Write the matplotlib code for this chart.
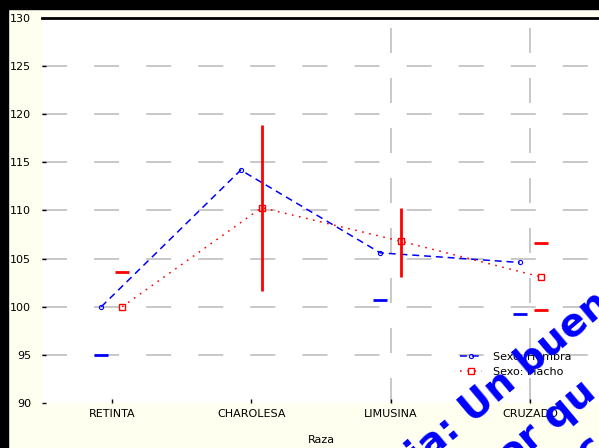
import matplotlib
matplotlib.use("Agg")
import matplotlib.pyplot as plt
import numpy as np
from matplotlib.patches import Rectangle

plt.rcParams['lines.scale_dashes'] = False

categories = ["RETINTA", "CHAROLESA", "LIMUSINA", "CRUZADO"]
yticks = [90, 95, 100, 105, 110, 115, 120, 125, 130]

hembra_mean = [100.0, 114.2, 105.6, 104.6]
hembra_low = [95.0, np.nan, 100.7, 99.2]

macho_mean = [100.0, 110.3, 106.8, 103.1]
macho_low = [np.nan, 101.6, 103.1, 99.7]
macho_high = [103.6, 118.9, 110.3, 106.6]
macho_bar = [False, True, True, False]

fig = plt.figure(figsize=(5.99, 4.48), dpi=100)
fig.patch.set_facecolor('#FFFFF0')

ax = fig.add_axes([42/599, 1-403/448, 558/599, 385/448])
ax.set_facecolor('white')
ax.set_xlim(-0.5, 3.5)
ax.set_ylim(90, 130)

x = np.arange(len(categories))
off = 0.075
xb = x - off
xr = x + off

# grid
for yv in yticks[1:-1]:
    ax.axhline(yv, color='#C8C8C8', lw=1.4, dashes=(18, 19.5), dash_capstyle='butt', zorder=1)
for xv in x[2:]:
    ax.axvline(xv, color='#C8C8C8', lw=1.4, dashes=(18, 18), zorder=1)

# series
ax.plot(xb, hembra_mean, color='#0000FF', lw=1.1, dashes=(5, 3.5), marker='o', ms=3,
        mfc='none', mec='#0000FF', mew=0.8, label='Sexo: Hembra', zorder=3)
ax.plot(xr, macho_mean, color='#FF0000', lw=1.1, dashes=(1.2, 4), marker='s', ms=4,
        mfc='none', mec='#FF0000', mew=1.0, label='Sexo: Macho', zorder=3)

cw = 0.05
ax.hlines(hembra_low, xb - cw, xb + cw, color='#0000FF', lw=2, zorder=4)
caph = [hi if not b else np.nan for hi, b in zip(macho_high, macho_bar)]
capl = [lo if not b else np.nan for lo, b in zip(macho_low, macho_bar)]
ax.hlines(caph, xr - cw, xr + cw, color='#FF0000', lw=2, zorder=4)
ax.hlines(capl, xr - cw, xr + cw, color='#FF0000', lw=2, zorder=4)
for xi, lo, hi, b in zip(xr, macho_low, macho_high, macho_bar):
    if b:
        ax.vlines(xi, lo, hi, color='#FF0000', lw=2, zorder=4)

ax.set_xticks(x)
ax.set_xticklabels(categories, fontsize=8)
ax.set_yticks(yticks)
ax.set_yticklabels([str(v) for v in yticks], fontsize=8)
ax.tick_params(axis='y', direction='in', length=3, width=1, color='black', pad=8)
ax.tick_params(axis='x', direction='in', length=3, width=1, color='black', pad=4)
for s in ['left', 'bottom', 'right']:
    ax.spines[s].set_visible(False)
ax.spines['top'].set_linewidth(2)
ax.spines['top'].set_color('black')
ax.set_xlabel('Raza', fontsize=8, labelpad=12)

leg = ax.legend(loc='upper left', bbox_to_anchor=(460/599, 1-352/448), bbox_transform=fig.transFigure,
                frameon=False, fontsize=8, handlelength=2.0, handletextpad=1.0, labelspacing=0.45,
                borderaxespad=0, borderpad=0)
leg.set_zorder(5)

# black frame bands
fig.patches.append(Rectangle((0, 1-9/448), 1, 9/448, transform=fig.transFigure, color='black', zorder=0))
fig.patches.append(Rectangle((0, 0), 8/599, 1, transform=fig.transFigure, color='black', zorder=0))

# watermark
wm = dict(rotation=40, rotation_mode='anchor', ha='left', va='baseline',
          fontsize=28, fontweight='bold', color='#0000FF', zorder=10)
fig.text(420/599, 1-468/448, 'ia: Un buen', **wm)
fig.text(500/599, 1-478/448, 'ior qu', **wm)
fig.text(588/599, 1-466/448, 'c', **wm)

fig.savefig('out.png', dpi=100, facecolor=fig.get_facecolor())
